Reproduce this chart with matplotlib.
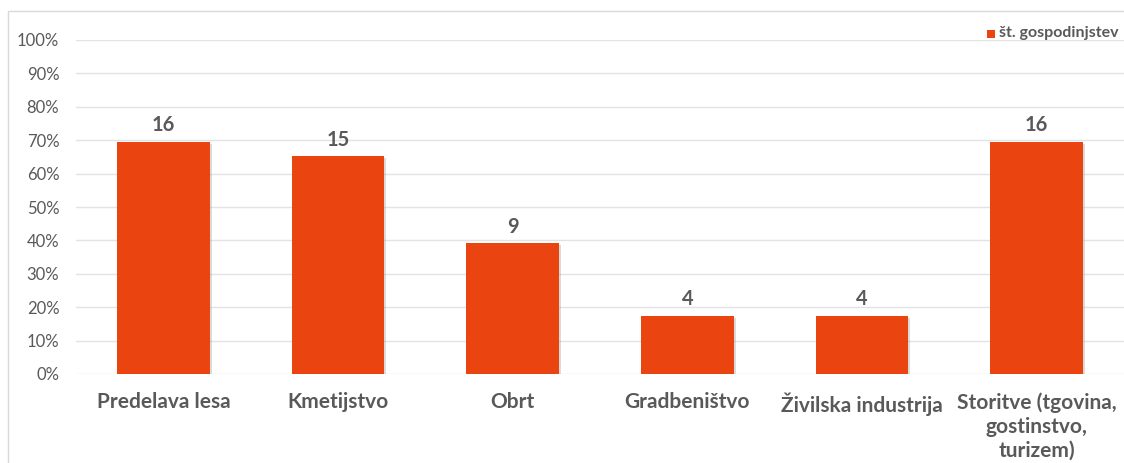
import matplotlib
matplotlib.use("Agg")
import matplotlib.pyplot as plt
import matplotlib.patheffects as pe
from matplotlib.patches import Rectangle
from matplotlib.ticker import PercentFormatter

# Data
categories = ["Predelava lesa", "Kmetijstvo", "Obrt", "Gradbeništvo",
              "Živilska industrija", "Storitve (tgovina,\ngostinstvo,\nturizem)"]
counts = [16, 15, 9, 4, 4, 16]
shares = [69.6, 65.2, 39.1, 17.4, 17.4, 69.6]  # bar height in %
series_name = "št. gospodinjstev"

bar_color = "#EA4410"
text_color = "#595959"
grid_color = "#E3E3E3"

plt.rcParams['font.family'] = ['Lato', 'DejaVu Sans']

fig = plt.figure(figsize=(11.24, 4.63), dpi=100)
fig.patch.set_facecolor("white")

# outer chart frame
fig.patches.append(Rectangle((8 / 1124, -0.1), 1.2, 1.1 - 11 / 463,
                             transform=fig.transFigure, fill=False,
                             edgecolor="#D9D9D9", linewidth=1.0))

ax = fig.add_axes([76 / 1124, 1 - 374 / 463, 1 - 76 / 1124, (374 - 40) / 463])

x = range(len(categories))
bars = ax.bar(x, shares, width=0.53, color=bar_color, zorder=3,
              path_effects=[pe.SimplePatchShadow(offset=(1.5, -1.5), shadow_rgbFace="#9a9a9a", alpha=0.35),
                            pe.Normal()])

for xi, h, c in zip(x, shares, counts):
    ax.text(xi, h + 2.0, str(c), ha="center", va="bottom", fontsize=14.5,
            fontweight="bold", color=text_color)

ax.set_xlim(-0.5, len(categories) - 0.5)
ax.set_ylim(0, 100)
ax.set_yticks(range(0, 101, 10))
ax.yaxis.set_major_formatter(PercentFormatter(decimals=0))
ax.set_xticks(list(x))
ax.set_xticklabels(categories, fontsize=15, fontweight="bold", color=text_color,
                   linespacing=1.25, va="top")
ax.tick_params(axis="x", length=0, pad=13)
ax.tick_params(axis="y", length=0, pad=12, labelsize=12, labelcolor=text_color)

ax.grid(axis="y", color=grid_color, linewidth=1.0, zorder=0)
for s in ax.spines.values():
    s.set_visible(False)

# legend
fig.patches.append(Rectangle((987 / 1124, 1 - 37.5 / 463), 8 / 1124, 8 / 463,
                             transform=fig.transFigure, facecolor=bar_color,
                             edgecolor="none"))
fig.text(999 / 1124, 1 - 33.5 / 463, series_name, fontsize=11.5, fontweight="bold",
         color=text_color, va="center", ha="left")

fig.savefig("out.png", dpi=100)
